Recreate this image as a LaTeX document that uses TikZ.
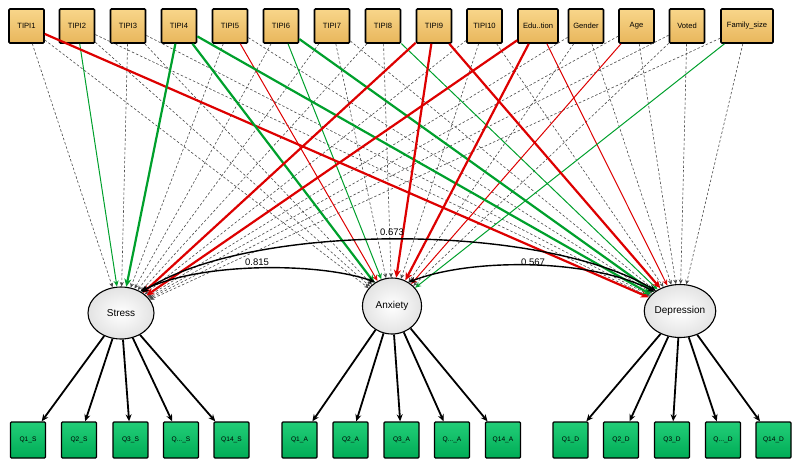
\documentclass[tikz,border=0pt]{standalone}
\usepackage{fontspec}
\setmainfont{Liberation Sans}
\usetikzlibrary{shapes.geometric,arrows.meta}
\definecolor{boxtop}{HTML}{F8D68A}
\definecolor{boxbot}{HTML}{E8B65C}
\definecolor{gtop}{HTML}{22CE78}
\definecolor{gbot}{HTML}{00AC56}
\definecolor{pred}{HTML}{DD0000}
\definecolor{pgreen}{HTML}{00A02C}
\definecolor{ngray}{HTML}{4A4A4A}
\begin{document}
\begin{tikzpicture}[x=1pt,y=-1pt,
 obs/.style={draw=black, line width=1.6pt, rounded corners=1pt, top color=boxtop, bottom color=boxbot, minimum width=35pt, minimum height=34pt, inner sep=1pt, font=\fontsize{7.6}{9}\selectfont},
 ind/.style={draw=black, line width=1.3pt, rounded corners=1pt, top color=gtop, bottom color=gbot, minimum width=35pt, minimum height=36pt, inner sep=1pt, font=\fontsize{6.6}{8}\selectfont},
 lat/.style={ellipse, draw=black, line width=1.1pt, inner color=white, outer color=gray!22, inner sep=0pt, font=\fontsize{10}{12}\selectfont},
 ns/.style={draw=ngray, line width=0.6pt, dash pattern=on 2.5pt off 2pt, -{Stealth[length=4.5pt,width=4pt]}},
 redthick/.style={draw=pred, line width=2.2pt, -{Stealth[length=8pt,width=7pt]}},
 redthin/.style={draw=pred, line width=1pt, -{Stealth[length=6pt,width=5pt]}},
 grthick/.style={draw=pgreen, line width=2.2pt, -{Stealth[length=8pt,width=7pt]}},
 grthin/.style={draw=pgreen, line width=1pt, -{Stealth[length=6pt,width=5pt]}},
 load/.style={draw=black, line width=1.8pt, -{Stealth[length=7pt,width=6pt]}},
 cov/.style={draw=black, line width=1.4pt, {Stealth[length=7pt,width=6pt]}-{Stealth[length=7pt,width=6pt]}},
 lbl/.style={font=\fontsize{9.5}{11}\selectfont, inner sep=1pt}
]
\useasboundingbox (0,0) rectangle (800,466);

% top observed variables
\node[obs] (t1) at (26.5,26) {TIPI1};
\node[obs] (t2) at (77,26) {TIPI2};
\node[obs] (t3) at (128,26) {TIPI3};
\node[obs] (t4) at (179,26) {TIPI4};
\node[obs] (t5) at (230,26) {TIPI5};
\node[obs] (t6) at (281,26) {TIPI6};
\node[obs] (t7) at (332,26) {TIPI7};
\node[obs] (t8) at (383,26) {TIPI8};
\node[obs] (t9) at (434,26) {TIPI9};
\node[obs] (t10) at (484.5,26) {TIPI10};
\node[obs, minimum width=40pt] (edu) at (538,26) {Edu..tion};
\node[obs] (gender) at (586,26) {Gender};
\node[obs] (age) at (636.5,26) {Age};
\node[obs] (voted) at (687,26) {Voted};
\node[obs, minimum width=52pt] (fam) at (747,26) {Family\_size};

% latent variables
\node[lat, minimum width=66pt, minimum height=52pt] (stress) at (121,313) {Stress};
\node[lat, minimum width=59pt, minimum height=56pt] (anx) at (392,306) {Anxiety};
\node[lat, minimum width=60pt, minimum height=53pt] (dep) at (680,311) {Depression};

% indicators
\node[ind] (s1) at (28,440) {Q1\_S};
\node[ind] (s2) at (79,440) {Q2\_S};
\node[ind] (s3) at (130.5,440) {Q3\_S};
\node[ind] (s4) at (181,440) {Q...\_S};
\node[ind] (s5) at (231.5,440) {Q14\_S};
\node[ind] (a1) at (299.5,440) {Q1\_A};
\node[ind] (a2) at (350.5,440) {Q2\_A};
\node[ind] (a3) at (401.5,440) {Q3\_A};
\node[ind] (a4) at (452,440) {Q...\_A};
\node[ind] (a5) at (503,440) {Q14\_A};
\node[ind] (d1) at (570.5,440) {Q1\_D};
\node[ind] (d2) at (621,440) {Q2\_D};
\node[ind] (d3) at (672,440) {Q3\_D};
\node[ind] (d4) at (723,440) {Q...\_D};
\node[ind] (d5) at (773.5,440) {Q14\_D};

% non-significant paths
\foreach \a/\b in {t1/stress,t1/anx,t2/anx,t2/dep,t3/stress,t3/anx,t3/dep,
  t5/stress,t5/dep,t6/stress,t7/stress,t7/anx,t7/dep,t8/stress,t8/anx,
  t10/stress,t10/anx,t10/dep,gender/stress,gender/anx,gender/dep,
  age/stress,age/dep,voted/stress,voted/anx,voted/dep,fam/stress,fam/dep}
  \draw[ns] (\a) -- (\b);

% significant paths
\draw[grthin] (t2) -- (stress);
\draw[redthin] (t5) -- (anx);
\draw[grthin] (t6) -- (anx);
\draw[grthin] (t8) -- (dep);
\draw[redthin] (edu) -- (dep);
\draw[redthin] (age) -- (anx);
\draw[grthin] (fam) -- (anx);
\draw[redthick] (t1) -- (dep);
\draw[grthick] (t4) -- (stress);
\draw[grthick] (t4) -- (anx);
\draw[grthick] (t4) -- (dep);
\draw[grthick] (t6) -- (dep);
\draw[redthick] (t9) -- (stress);
\draw[redthick] (t9) -- (anx);
\draw[redthick] (t9) -- (dep);
\draw[redthick] (edu) -- (stress);
\draw[redthick] (edu) -- (anx);

% covariances
\draw[cov] (stress.48) .. controls (200,262) and (320,262) .. (anx.125);
\draw[cov] (stress.45) .. controls (250,222) and (540,222) .. (dep.140);
\draw[cov] (anx.55) .. controls (470,258) and (590,258) .. (dep.143);
\node[lbl] (c1) at (257,262) {0.815};
\node[lbl] (c2) at (392,232) {0.673};
\node[lbl] (c3) at (533,262) {0.567};

% loadings
\foreach \i in {s1,s2,s3,s4,s5} \draw[load] (stress) -- (\i);
\foreach \i in {a1,a2,a3,a4,a5} \draw[load] (anx) -- (\i);
\foreach \i in {d1,d2,d3,d4,d5} \draw[load] (dep) -- (\i);
\end{tikzpicture}
\end{document}
